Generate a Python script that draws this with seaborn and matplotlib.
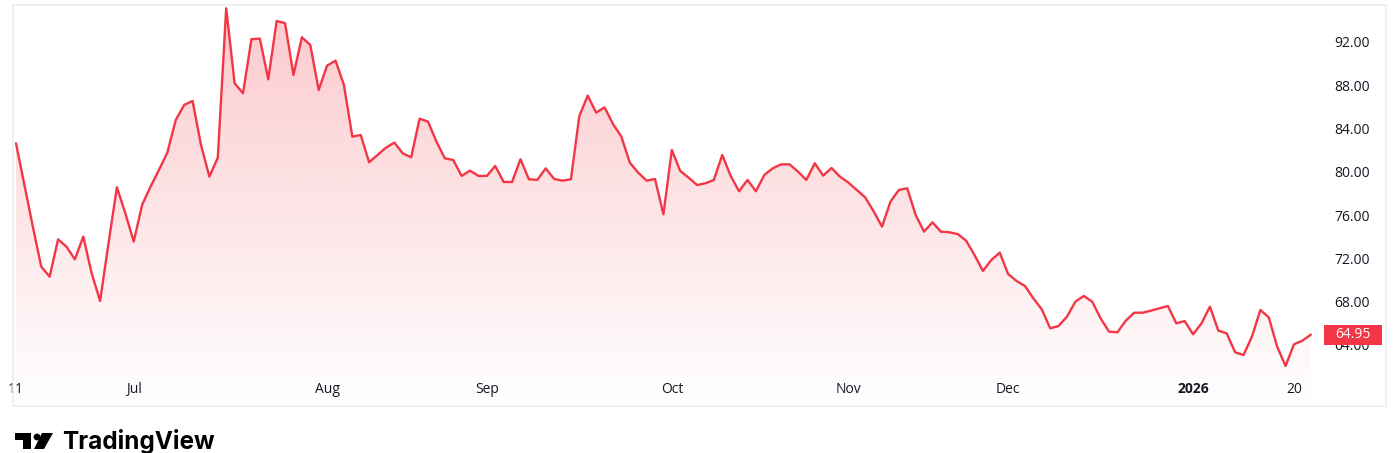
import matplotlib
matplotlib.use("Agg")
import matplotlib.pyplot as plt
from matplotlib.colors import to_rgb
from matplotlib.patches import Rectangle, Polygon, Circle
import matplotlib.transforms as mtransforms
import seaborn as sns
import pandas as pd
import numpy as np

# daily closes (Jun 11 .. Jan 21)
price = [
	82.63, 78.78, 74.93, 71.24, 70.31, 73.76, 73.08, 71.91, 74.01, 70.62,
	68.06, 73.39, 78.57, 76.17, 73.55, 76.94, 78.63, 80.17, 81.77, 84.79,
	86.18, 86.55, 82.48, 79.55, 81.31, 95.11, 88.18, 87.26, 92.25, 92.31,
	88.55, 93.94, 93.73, 88.95, 92.43, 91.72, 87.56, 89.81, 90.27, 88.03,
	83.25, 83.40, 80.88, 81.56, 82.23, 82.70, 81.71, 81.34, 84.91, 84.64,
	82.79, 81.25, 81.09, 79.62, 80.11, 79.62, 79.62, 80.54, 79.06, 79.06,
	81.16, 79.31, 79.25, 80.32, 79.34, 79.18, 79.31, 85.16, 87.04, 85.47,
	85.96, 84.42, 83.25, 80.85, 79.92, 79.18, 79.34, 76.07, 82.02, 80.08,
	79.46, 78.78, 78.94, 79.25, 81.56, 79.62, 78.20, 79.25, 78.20, 79.71,
	80.32, 80.69, 80.69, 80.02, 79.25, 80.79, 79.65, 80.35, 79.55, 79.00,
	78.32, 77.64, 76.35, 74.93, 77.24, 78.32, 78.48, 76.01, 74.47, 75.33,
	74.47, 74.41, 74.25, 73.64, 72.31, 70.84, 71.85, 72.53, 70.56, 69.91,
	69.45, 68.31, 67.29, 65.54, 65.75, 66.62, 68.00, 68.53, 68.00, 66.46,
	65.23, 65.17, 66.25, 66.98, 66.98, 67.17, 67.39, 67.60, 66.00, 66.21,
	64.98, 66.00, 67.54, 65.32, 65.07, 63.32, 63.07, 64.77, 67.23, 66.55,
	63.84, 62.06, 64.06, 64.40, 64.95,
]
last_price = 64.95

tick_labels = ["11", "Jul", "Aug", "Sep", "Oct", "Nov", "Dec", "2026", "20"]
tick_idx = [0, 14, 37, 56, 78, 99, 118, 140, 152]
price_ticks = [64, 68, 72, 76, 80, 84, 88, 92]

RED = "#F23645"
TEXT = "#131722"

sns.set_style("white")
plt.rcParams["font.family"] = ["Open Sans", "DejaVu Sans"]

df = pd.DataFrame({"idx": np.arange(len(price)), "price": price})

fig = plt.figure(figsize=(14, 4.53), dpi=100)
ax = fig.add_axes([0.0091, 0.1038, 0.981, 0.886])

xlim = (-0.39, 162.96)
ylim = (58.36, 95.45)

sns.lineplot(data=df, x="idx", y="price", ax=ax, color=RED, linewidth=1.7, zorder=3)

# gradient area under the line
poly = ax.fill_between(df["idx"], df["price"], ylim[0], color="none", lw=0)
clip = poly.get_paths()[0]
alpha = np.linspace(0.27, 0.0, 256).reshape(-1, 1)
rgba = np.zeros((256, 1, 4))
rgba[..., :3] = to_rgb(RED)
rgba[..., 3] = alpha
im = ax.imshow(rgba, extent=[xlim[0], xlim[1], ylim[0], max(price)],
			   aspect="auto", origin="upper", zorder=1)
im.set_clip_path(clip, transform=ax.transData)

ax.set_xlim(*xlim)
ax.set_ylim(*ylim)
ax.set_xlabel("")
ax.set_ylabel("")

ax.set_xticks(tick_idx)
ax.set_xticklabels(tick_labels)
ax.set_yticks(price_ticks)
ax.set_yticklabels([f"{v:.2f}" for v in price_ticks])
ax.yaxis.tick_right()
ax.tick_params(axis="x", length=0, pad=-17.5, labelsize=10, labelcolor=TEXT)
ax.tick_params(axis="y", length=0, pad=-37.5, labelsize=10, labelcolor=TEXT,
			   labelright=True, labelleft=False)
for lab in ax.get_xticklabels():
	lab.set_verticalalignment("top")
	if lab.get_text() == "2026":
		lab.set_fontweight("bold")

for s in ax.spines.values():
	s.set_color("#ECEDF0")
	s.set_linewidth(1.2)

# last price tag
trans = mtransforms.blended_transform_factory(ax.transAxes, ax.transData)
ax.add_patch(Rectangle((0.9545, last_price - 0.93), 0.0422, 1.86, transform=trans,
					   facecolor=RED, edgecolor="none", zorder=6, clip_on=False))
ax.text(0.9757, last_price, f"{last_price:.2f}", transform=trans, color="white",
		fontsize=10, ha="center", va="center", zorder=7)

# TradingView wordmark (icon drawn in pixel coords, y measured from top)
px = mtransforms.Affine2D().scale(1 / 1400, -1 / 453).translate(0, 1) + fig.transFigure
icon = [
	Polygon([[15, 433], [31, 433], [31, 449], [23, 449], [23, 439.5], [15, 439.5]], closed=True),
	Circle((37, 437), 3.4),
	Polygon([[42, 433], [53, 433], [44, 449], [34, 449]], closed=True),
]
for p in icon:
	p.set_transform(px)
	p.set_facecolor("#000000")
	p.set_edgecolor("none")
	fig.patches.append(p)
fig.text(62 / 1400, 1 - 441.5 / 453, "TradingView", fontsize=17.5, fontweight="bold",
		 family=["Inter", "DejaVu Sans"], color="#000000", ha="left", va="center")

fig.savefig("out.png", dpi=100, facecolor="white")
